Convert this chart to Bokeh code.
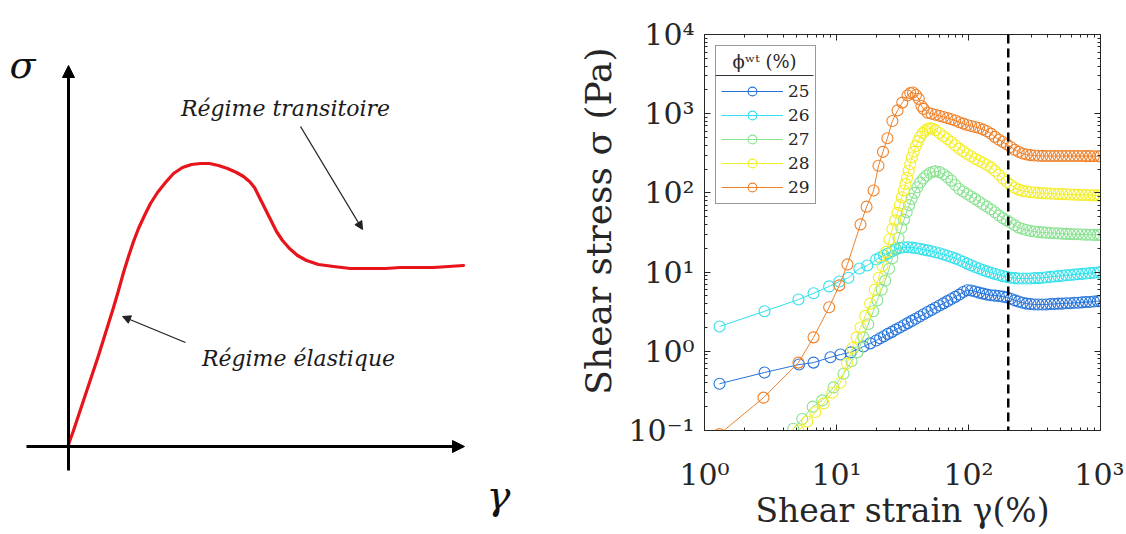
from bokeh.plotting import figure
from bokeh.layouts import row
from bokeh.models import (Range1d, Arrow, NormalHead, Label, Span, Legend, LegendItem,
                          FixedTicker, LogAxis)
from bokeh.embed import file_html
from bokeh.resources import INLINE

# ---------------- left schematic (coordinates in picture units) ----------------
CURVE_X = [68, 73, 78, 83, 88, 93, 98, 103, 108, 113, 118, 123, 128, 133, 138, 144, 150, 157,
           165, 173, 182, 191, 200, 209, 218, 227, 236, 243, 249, 254, 258, 262, 266, 271,
           276, 282, 289, 297, 306, 318, 333, 350, 367, 385, 400, 417, 433, 448, 463]
CURVE_Y = [444, 430, 415, 400, 385, 370, 355, 339, 323, 307, 290, 272, 256, 241, 228, 215, 203,
           192, 182, 173, 167, 164, 163, 163, 165, 168, 172, 176, 181, 187, 195, 203, 211, 221,
           231, 240, 248, 255, 260, 264, 266, 268, 268, 268, 267, 267, 267, 266, 265]
AXIS_ORIGIN = (68, 446)
AXIS_ENDS = {"x": (26, 464), "y": (470, 65)}
NOTE_TEXTS = ["Régime transitoire", "Régime élastique"]
NOTE_POS = [(285, 108), (298, 358)]
NOTE_ARROWS = [((300, 126), (362, 229)), ((185, 342), (122, 316))]

# ---------------- right chart data ----------------
GRID = [20.0, 21.4, 22.9, 24.5, 26.3, 28.2, 30.2, 32.4, 34.7, 37.2,
        39.8, 42.7, 45.7, 49.0, 52.5, 56.2, 60.3, 64.6, 69.2, 74.1,
        79.4, 85.1, 91.2, 97.7, 104.7, 112.2, 120.2, 128.8, 138.0, 147.9,
        158.5, 169.8, 182.0, 195.0, 208.9, 223.9, 239.9, 257.0, 275.4, 295.1,
        316.2, 338.8, 363.1, 389.0, 416.9, 446.7, 478.6, 512.9, 549.5, 588.8,
        631.0, 676.1, 724.4, 776.2, 831.8, 891.3, 955.0, 1000.0]

X25_LEAD = [1.3, 2.85, 5.2, 6.7, 9.0, 10.7, 12.8, 16.0, 18.0]
Y25_LEAD = [0.39, 0.54, 0.68, 0.72, 0.84, 0.91, 0.97, 1.15, 1.26]
Y25_GRID = [1.37, 1.46, 1.55, 1.66, 1.76, 1.88, 2.00, 2.13, 2.27, 2.42,
            2.58, 2.75, 2.93, 3.13, 3.33, 3.55, 3.78, 4.03, 4.30, 4.57,
            4.87, 5.2, 5.6, 5.9, 5.85, 5.7, 5.5, 5.35, 5.2, 5.1,
            5.05, 5.0, 4.9, 4.8, 4.6, 4.4, 4.25, 4.1, 4.0, 3.95,
            3.9, 3.9, 3.9, 3.9, 3.95, 3.95, 4.0, 4.0, 4.05, 4.05,
            4.1, 4.1, 4.15, 4.2, 4.2, 4.25, 4.3, 4.35]

X26_LEAD = [1.3, 2.85, 5.15, 6.7, 8.8, 10.5, 12.3, 14.9, 17.1]
Y26_LEAD = [2.06, 3.2, 4.5, 5.4, 6.6, 7.6, 8.5, 11.1, 12.1]
Y26_GRID = [14.4, 15.3, 16.2, 17.2, 18.3, 19.3, 20.2, 20.6, 20.6, 20.4,
            20.1, 19.7, 19.2, 18.8, 18.3, 17.8, 17.3, 16.7, 16.1, 15.5,
            14.9, 14.2, 13.5, 12.8, 12.2, 11.6, 11.1, 10.6, 10.2, 9.8,
            9.5, 9.2, 8.9, 8.7, 8.5, 8.4, 8.3, 8.3, 8.3, 8.3,
            8.4, 8.4, 8.5, 8.6, 8.7, 8.8, 8.9, 9.0, 9.1, 9.2,
            9.3, 9.4, 9.5, 9.6, 9.7, 9.8, 9.9, 10.0]

X27_LEAD = [4.7, 5.5, 6.6, 7.8, 9.5, 11.3, 13.0, 14.4, 16.0, 17.4, 19.0, 20.4, 22.0, 23.4,
            25.0, 26.5, 28.0, 29.5, 31.0, 32.5, 34.0, 35.5, 37.0, 39.0, 41.0, 43.0, 45.5,
            48.0, 51.0, 54.0]
Y27_LEAD = [0.105, 0.14, 0.2, 0.24, 0.35, 0.52, 0.75, 0.97, 1.5, 2.2, 3.2, 4.4, 6.0, 7.8,
            11, 15, 20, 27, 36, 46, 57, 70, 84, 100, 118, 135, 152, 166, 178, 185]
Y27_GRID = [188, 183, 172, 158, 143, 126, 112, 104, 97, 90,
            84, 78, 72, 67, 62, 57, 52, 48, 45, 42,
            39, 36.5, 35, 34, 33, 32.5, 32, 31.7, 31.5, 31.2,
            31, 30.8, 30.6, 30.4, 30.2, 30, 30, 29.8, 29.7, 29.6,
            29.5, 29.5, 29.5]

X28_LEAD = [5.15, 6.0, 6.9, 8.0, 9.3, 10.7, 12.0, 13.2, 14.2, 15.2, 16.5, 18.0, 19.5, 20.9,
            22.3, 23.8, 25.2, 26.5, 27.8, 29.0, 30.2, 31.3, 32.3, 33.3, 34.2, 35.2, 36.2,
            37.2, 38.5, 40.0, 41.5, 43.0, 45.0, 47.0, 49.0, 51.0, 53.0]
Y28_LEAD = [0.1, 0.13, 0.17, 0.22, 0.3, 0.4, 0.7, 1.1, 1.5, 2.0, 2.8, 4.0, 6.0, 8.5,
            12, 18, 26, 35, 45, 56, 70, 88, 107, 130, 155, 190, 230,
            280, 330, 390, 450, 510, 570, 610, 640, 655, 650]
Y28_GRID = [620, 570, 520, 480, 440, 400, 362, 335, 310, 290,
            270, 255, 240, 225, 210, 190, 170, 152, 138, 126,
            116, 110, 106, 104, 102, 101, 100, 99, 98.5, 98,
            97.5, 97, 96.5, 96, 95.5, 95, 94.5, 94, 94, 93.5,
            93, 93, 92]

X29_LEAD = [1.3, 2.8, 5.15, 6.7, 8.8, 10.5, 12.1, 15.2, 16.9, 19.1, 20.8, 22.5, 24.3, 26.5,
            29.0, 31.5, 34.5, 36.2, 38.0, 40.0, 42.0, 44.0, 45.7, 49.0]
Y29_LEAD = [0.09, 0.26, 0.72, 1.5, 3.6, 6.8, 12.5, 40, 67, 107, 220, 330, 490, 810,
            1100, 1380, 1700, 1820, 1850, 1720, 1540, 1250, 1150, 1030]
Y29_GRID = [1000, 970, 940, 910, 880, 850, 820, 780, 750, 720,
            700, 680, 660, 630, 600, 560, 510, 470, 440, 410,
            380, 350, 330, 315, 305, 300, 296, 294, 293, 292,
            292, 292, 292, 292, 292, 292, 292, 292, 292, 291,
            291, 290, 290, 290]

LABELS = ["25", "26", "27", "28", "29"]
COLORS = ["#2574db", "#30e0ea", "#88e290", "#f2ee26", "#ee8129"]
YIELD_STRAIN = 200

X_TICKS = [1, 10, 100, 1000]
Y_TICKS = [0.1, 1, 10, 100, 1000, 10000]
X_TICK_TEXT = ["10⁰", "10¹", "10²", "10³"]
Y_TICK_TEXT = ["10⁻¹", "10⁰", "10¹", "10²", "10³", "10⁴"]

series = [
    (X25_LEAD + GRID[58 - len(Y25_GRID):], Y25_LEAD + Y25_GRID),
    (X26_LEAD + GRID[58 - len(Y26_GRID):], Y26_LEAD + Y26_GRID),
    (X27_LEAD + GRID[58 - len(Y27_GRID):], Y27_LEAD + Y27_GRID),
    (X28_LEAD + GRID[58 - len(Y28_GRID):], Y28_LEAD + Y28_GRID),
    (X29_LEAD + GRID[58 - len(Y29_GRID):], Y29_LEAD + Y29_GRID),
]

SERIF = "DejaVu Serif"
PAGE_H = 532
LEFT_W = 568
RIGHT_W = 556
FRAME_L, FRAME_T, FRAME_S = 136, 34, 396   # right frame: border-left, border-top, side

# ---------------- left figure ----------------
p1 = figure(width=LEFT_W, height=PAGE_H, x_range=Range1d(0, LEFT_W), y_range=Range1d(PAGE_H, 0),
            output_backend="svg", toolbar_location=None,
            min_border_left=0, min_border_right=0, min_border_top=0, min_border_bottom=0)
p1.frame_align = False
p1.xaxis.visible = False
p1.yaxis.visible = False
p1.grid.visible = False
p1.outline_line_color = None

ox, oy = AXIS_ORIGIN
p1.add_layout(Arrow(x_start=AXIS_ENDS["x"][0], y_start=oy, x_end=AXIS_ENDS["x"][1], y_end=oy,
                    line_width=3, line_color="black",
                    end=NormalHead(size=12, fill_color="black", line_color="black")))
p1.add_layout(Arrow(x_start=ox, y_start=AXIS_ENDS["y"][0], x_end=ox, y_end=AXIS_ENDS["y"][1],
                    line_width=3, line_color="black",
                    end=NormalHead(size=12, fill_color="black", line_color="black")))
p1.line(CURVE_X, CURVE_Y, line_color="#e8141b", line_width=3.2, line_join="round", line_cap="round")

for (s, e) in NOTE_ARROWS:
    p1.add_layout(Arrow(x_start=s[0], y_start=s[1], x_end=e[0], y_end=e[1],
                        line_width=1.3, line_color="#222222",
                        end=NormalHead(size=8, fill_color="#222222", line_color="#222222")))
for t, (x, y) in zip(NOTE_TEXTS, NOTE_POS):
    p1.add_layout(Label(x=x, y=y, text=t, text_align="center", text_baseline="alphabetic",
                        text_font=SERIF, text_font_style="italic", text_font_size="22px",
                        text_color="#1a1a1a"))
p1.add_layout(Label(x=22, y=64, text="σ", text_align="center", text_baseline="alphabetic",
                    text_font=SERIF, text_font_style="italic", text_font_size="38px",
                    text_color="#111111"))
p1.add_layout(Label(x=498, y=494, text="γ", text_align="center", text_baseline="alphabetic",
                    text_font=SERIF, text_font_style="italic", text_font_size="40px",
                    text_color="#111111"))

# ---------------- right figure ----------------
p2 = figure(width=RIGHT_W, height=PAGE_H, x_axis_type="log", y_axis_type="log",
            x_range=Range1d(1, 1000), y_range=Range1d(0.1, 10000),
            output_backend="svg", toolbar_location=None,
            min_border_left=FRAME_L, min_border_right=RIGHT_W - FRAME_L - FRAME_S,
            min_border_top=FRAME_T, min_border_bottom=PAGE_H - FRAME_T - FRAME_S)
p2.frame_align = False
p2.grid.visible = False
p2.outline_line_color = "#262626"
p2.outline_line_width = 1

xminor = [k * 10 ** n for n in range(0, 3) for k in range(2, 10)]
yminor = [k * 10.0 ** n for n in range(-1, 4) for k in range(2, 10)]


def style_axis(ax, ticks, minor, texts):
    ax.ticker = FixedTicker(ticks=ticks, minor_ticks=minor)
    ax.major_tick_in = 6
    ax.major_tick_out = 0
    ax.minor_tick_in = 3
    ax.minor_tick_out = 0
    ax.major_tick_line_color = "#262626"
    ax.minor_tick_line_color = "#262626"
    ax.axis_line_color = "#262626"
    if texts is None:
        ax.major_label_text_font_size = "2px"
        ax.major_label_text_alpha = 0
        ax.major_label_standoff = 0
    else:
        ax.major_label_overrides = {t: s for t, s in zip(ticks, texts)}
        ax.major_label_text_font = SERIF
        ax.major_label_text_font_size = "30px"
        ax.major_label_text_color = "#262626"
        ax.axis_label_text_font = SERIF
        ax.axis_label_text_font_size = "33px"
        ax.axis_label_text_font_style = "normal"
        ax.axis_label_text_color = "#262626"


style_axis(p2.xaxis[0], X_TICKS, xminor, X_TICK_TEXT)
style_axis(p2.yaxis[0], Y_TICKS, yminor, Y_TICK_TEXT)
p2.xaxis[0].axis_label = "Shear strain γ(%)"
p2.yaxis[0].axis_label = "\u00a0\u00a0Shear stress σ (Pa)"
p2.yaxis[0].axis_label_text_font_size = "36px"
p2.xaxis[0].major_label_standoff = 26
p2.xaxis[0].axis_label_standoff = -4
p2.yaxis[0].major_label_standoff = 10
p2.yaxis[0].axis_label_standoff = 6

top_ax = LogAxis()
style_axis(top_ax, X_TICKS, xminor, None)
p2.add_layout(top_ax, "above")
right_ax = LogAxis()
style_axis(right_ax, Y_TICKS, yminor, None)
p2.add_layout(right_ax, "right")

items = []
for lab, (xs, ys), col in zip(LABELS, series, COLORS):
    lr = p2.line(xs, ys, line_color=col, line_width=1)
    sr = p2.scatter(xs, ys, marker="circle", size=11, fill_color=None, line_color=col, line_width=1.1)
    items.append(LegendItem(label=lab, renderers=[lr, sr]))

p2.add_layout(Span(location=YIELD_STRAIN, dimension="height", line_color="black",
                   line_width=2.5, line_dash="9 5"))


# legend header separator, placed from the frame geometry (screen px -> data)
def frame_px_to_data(dx, dy):
    return 10 ** (3.0 * dx / FRAME_S), 10 ** (4.0 - 5.0 * dy / FRAME_S)


LEG_MARGIN, LEG_W, SEP_DY = 11, 98, 41
sx0, sy = frame_px_to_data(LEG_MARGIN, SEP_DY)
sx1, _ = frame_px_to_data(LEG_MARGIN + LEG_W, SEP_DY)
p2.segment(x0=[sx0], y0=[sy], x1=[sx1], y1=[sy], line_color="#333333", line_width=1)

legend = Legend(items=items, location="top_left", title="\u00a0\u00a0ϕʷᵗ (%)",
                title_text_font=SERIF, title_text_font_size="18px", title_text_font_style="normal",
                title_text_color="#262626", title_standoff=8,
                label_text_font=SERIF, label_text_font_size="17px", label_text_color="#262626",
                border_line_color="#333333", border_line_width=1, background_fill_alpha=0,
                padding=5, margin=LEG_MARGIN, glyph_width=62, glyph_height=22, label_height=22,
                spacing=2, label_standoff=5)
p2.add_layout(legend)

layout = row(p1, p2)
open("out.html", "w").write(file_html(layout, INLINE))
